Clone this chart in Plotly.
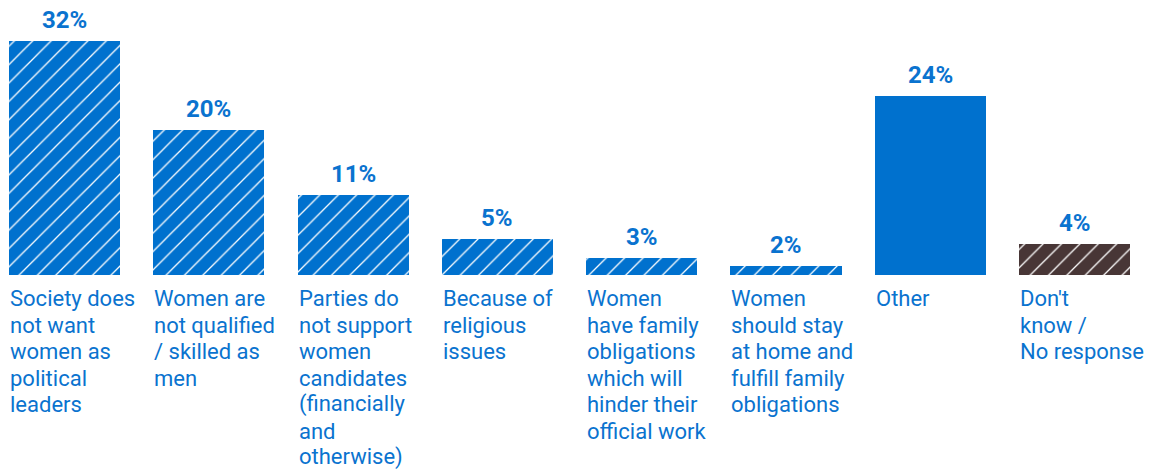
import plotly.graph_objects as go

categories = [
    "Society does\nnot want\nwomen as\npolitical\nleaders",
    "Women are\nnot qualified\n/ skilled as\nmen",
    "Parties do\nnot support\nwomen\ncandidates\n(financially\nand\notherwise)",
    "Because of\nreligious\nissues",
    "Women\nhave family\nobligations\nwhich will\nhinder their\nofficial work",
    "Women\nshould stay\nat home and\nfulfill family\nobligations",
    "Other",
    "Don't\nknow /\nNo response",
]
values = [32, 19.8, 11, 4.9, 2.3, 1.2, 24.5, 4.2]
value_labels = ["32%", "20%", "11%", "5%", "3%", "2%", "24%", "4%"]
bar_colors = ["#0071CE"] * 6 + ["#0071CE", "#483636"]
pattern_shapes = ["/"] * 6 + ["", "/"]
pattern_fg = ["#9EC3EC"] * 6 + ["#9EC3EC", "#9C8C8C"]

TEXT_BLUE = "#0A73CF"
CAT_FONT = "Roboto, Liberation Sans, sans-serif"
VAL_FONT = "Roboto, Liberation Sans, sans-serif"
BAR_W = 0.77

xs = list(range(len(categories)))

fig = go.Figure(
    go.Bar(
        x=xs,
        y=values,
        width=BAR_W,
        marker=dict(
            color=bar_colors,
            line=dict(width=0),
            pattern=dict(
                shape=pattern_shapes,
                fgcolor=pattern_fg,
                bgcolor=bar_colors,
                fgopacity=1,
                size=13,
                solidity=0.1,
                fillmode="overlay",
            ),
        ),
        hoverinfo="skip",
    )
)

annotations = []
for x, v, lab in zip(xs, values, value_labels):
    annotations.append(dict(
        x=x, y=v, xref="x", yref="y", text=f"<b>{lab}</b>",
        showarrow=False, xanchor="center", yanchor="bottom", yshift=5,
        font=dict(family=VAL_FONT, size=24, color=TEXT_BLUE),
    ))

LINE_H = 26.5
FIRST = 32
for x, cat in zip(xs, categories):
    for j, line in enumerate(cat.split("\n")):
        annotations.append(dict(
            x=x - BAR_W / 2, y=0, xref="x", yref="y", text=line,
            showarrow=False, xanchor="left", yanchor="bottom",
            yshift=-(FIRST + j * LINE_H) - 6, xshift=-1,
            font=dict(family=CAT_FONT, size=22, color=TEXT_BLUE),
        ))

fig.update_layout(
    width=1156, height=473,
    margin=dict(l=0, r=0, t=0, b=198, pad=0),
    plot_bgcolor="white", paper_bgcolor="white",
    showlegend=False,
    bargap=0,
    xaxis=dict(range=[-0.447, 7.564], visible=False, fixedrange=True),
    yaxis=dict(range=[0, 37.67], visible=False, fixedrange=True),
    annotations=annotations,
)

fig.write_html(
    "out.html",
    config={"displayModeBar": False},
    post_script="document.body.style.margin='0';document.body.style.overflow='hidden';",
)
